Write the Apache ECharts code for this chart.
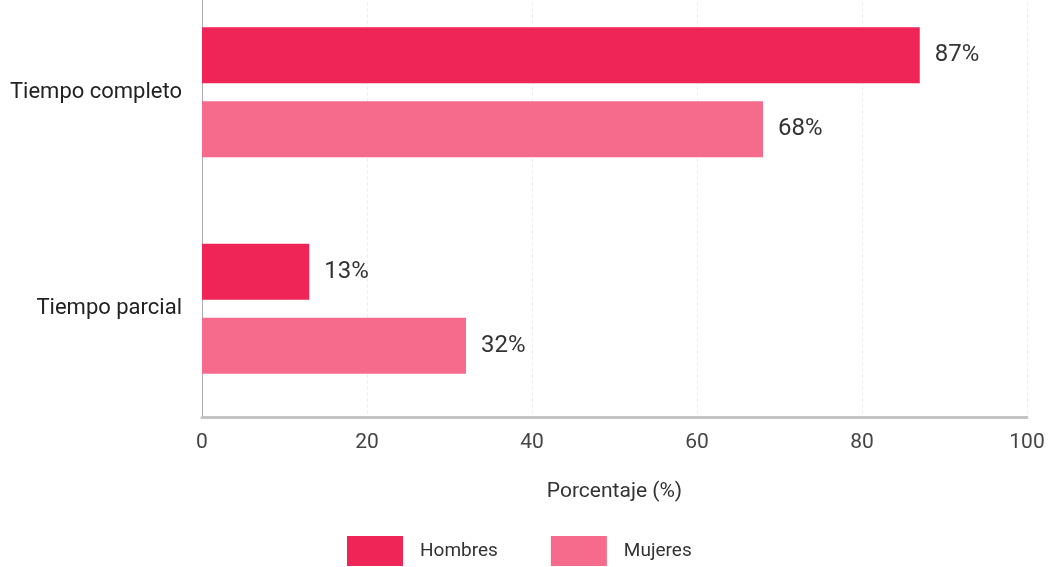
<!DOCTYPE html>
<html>
<head>
<meta charset="utf-8">
<script src="https://cdn.jsdelivr.net/npm/echarts@6/dist/echarts.min.js"></script>
<style>
  html, body { margin: 0; padding: 0; background: #ffffff; overflow: hidden; }
  #wrap { position: relative; width: 1051px; height: 567px; overflow: hidden; }
  /* the plot area starts slightly above the visible frame */
  #chart { position: absolute; left: 0; top: -26px; width: 1051px; height: 593px; }
</style>
</head>
<body>
<div id="wrap"><div id="chart"></div></div>
<script>
// Tipo de jornada por sexo
const categories = ['Tiempo completo', 'Tiempo parcial'];
const seriesNames = ['Hombres', 'Mujeres'];
const hombres = [87, 13];
const mujeres = [68, 32];
const xTicks = [0, 20, 40, 60, 80, 100];

const FONT = 'Roboto, "Noto Sans", sans-serif';
const colors = ['#EE2556', '#F66A8C'];

const chart = echarts.init(document.getElementById('chart'), null, { renderer: 'canvas' });

const valueLabel = {
  show: true,
  position: 'right',
  distance: 15,
  formatter: p => p.value + '%',
  color: '#333333',
  fontFamily: FONT,
  fontSize: 24
};

chart.setOption({
  animation: false,
  backgroundColor: '#ffffff',
  color: colors,
  grid: { left: 202, right: 24, top: 10, bottom: 150, containLabel: false },
  legend: {
    data: seriesNames,
    bottom: -4,
    left: 342,
    itemWidth: 56,
    itemHeight: 30,
    itemGap: 53,
    icon: 'rect',
    textStyle: { fontFamily: FONT, fontSize: 19, color: '#333333', padding: [0, 0, 0, 12] }
  },
  xAxis: {
    type: 'value',
    min: xTicks[0],
    max: xTicks[xTicks.length - 1],
    interval: xTicks[1] - xTicks[0],
    name: 'Porcentaje (%)',
    nameLocation: 'middle',
    nameGap: 64,
    nameTextStyle: { fontFamily: FONT, fontSize: 21, color: '#333333' },
    axisLine: { show: true, lineStyle: { color: '#c4c4c4', width: 3 } },
    axisTick: { show: false },
    axisLabel: { fontFamily: FONT, fontSize: 21, color: '#444444', margin: 15 },
    splitLine: { show: true, lineStyle: { color: '#f0f0f0', type: 'dashed', width: 1 } }
  },
  yAxis: {
    type: 'category',
    data: categories,
    inverse: true,
    axisLine: { show: true, lineStyle: { color: '#aaaaaa', width: 1 } },
    axisTick: { show: false },
    axisLabel: { fontFamily: FONT, fontSize: 22, color: '#222222', margin: 20, padding: [0, 0, 10, 0] },
    splitLine: { show: false }
  },
  series: [
    {
      name: seriesNames[0],
      type: 'bar',
      data: hombres,
      barWidth: 56,
      barGap: '32%',
      label: valueLabel
    },
    {
      name: seriesNames[1],
      type: 'bar',
      data: mujeres,
      barWidth: 56,
      barGap: '32%',
      label: valueLabel
    }
  ]
});
</script>
</body>
</html>
